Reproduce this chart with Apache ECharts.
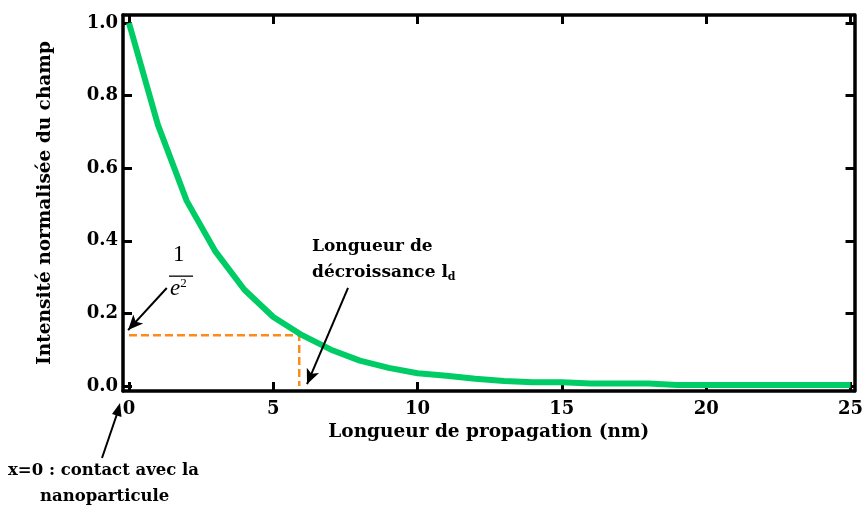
<!DOCTYPE html>
<html>
<head>
<meta charset="utf-8">
<script src="https://cdn.jsdelivr.net/npm/echarts@6/dist/echarts.min.js"></script>
<style>
  html, body { margin: 0; padding: 0; background: #fff; }
  #chart { width: 866px; height: 509px; }
</style>
</head>
<body>
<div id="chart"></div>
<script>
// tick labels
const xTicks = [0, 5, 10, 15, 20, 25];
const yTicks = [0, 0.2, 0.4, 0.6, 0.8, 1.0];

// green curve
const distance = [0, 1, 2, 3, 4, 5, 6, 7, 8, 9, 10, 11, 12, 13, 14, 15, 16, 17, 18, 19, 20, 21, 22, 23, 24, 25];
const intensity = [1.0, 0.72, 0.51, 0.37, 0.265, 0.19, 0.14, 0.10, 0.07, 0.05, 0.035, 0.028, 0.02, 0.014, 0.01, 0.01,
    0.007, 0.007, 0.007, 0.003, 0.003, 0.003, 0.003, 0.003, 0.003, 0.003];

// 1/e^2 level and decay length
const decayLevel = 0.14;
const decayLength = 5.9;

const font = "DejaVu Serif";
const black = "#000";

const chartDom = document.getElementById("chart");
const myChart = echarts.init(chartDom, null, { renderer: "canvas" });

const arrow = (from, to) => [
    { coord: from, symbol: "none" },
    { coord: to, symbol: "arrow", symbolSize: [10, 15] }
];

const boldText = (size) => ({ fontFamily: font, fontWeight: "bold", fontSize: size, color: black });

const option = {
    animation: false,
    grid: { left: 123, right: 8, top: 15, bottom: 118 },
    xAxis: [
        {
            type: "value",
            min: -0.207,
            max: 25.14,
            name: "Longueur de propagation (nm)",
            nameLocation: "middle",
            nameGap: 30,
            nameTextStyle: boldText(18.5),
            axisLine: { show: true, onZero: false, lineStyle: { color: black, width: 3.5 } },
            axisTick: { show: true, inside: true, length: 9, customValues: xTicks, lineStyle: { color: black, width: 3 } },
            axisLabel: Object.assign({ customValues: xTicks, margin: 9 }, boldText(18)),
            splitLine: { show: false }
        },
        {
            type: "value",
            position: "top",
            min: -0.207,
            max: 25.14,
            axisLine: { show: true, onZero: false, lineStyle: { color: black, width: 3.5 } },
            axisTick: { show: true, inside: true, length: 9, customValues: xTicks, lineStyle: { color: black, width: 3 } },
            axisLabel: { show: false },
            splitLine: { show: false }
        }
    ],
    yAxis: [
        {
            type: "value",
            min: -0.0138,
            max: 1.022,
            name: "Intensité normalisée du champ",
            nameLocation: "middle",
            nameGap: 68,
            nameTextStyle: boldText(18.5),
            axisLine: { show: true, onZero: false, lineStyle: { color: black, width: 3.5 } },
            axisTick: { show: true, inside: true, length: 9, customValues: yTicks, lineStyle: { color: black, width: 3 } },
            axisLabel: Object.assign({ customValues: yTicks, margin: 5, formatter: v => v.toFixed(1) }, boldText(18)),
            splitLine: { show: false }
        },
        {
            type: "value",
            position: "right",
            min: -0.0138,
            max: 1.022,
            axisLine: { show: true, onZero: false, lineStyle: { color: black, width: 3.5 } },
            axisTick: { show: true, inside: true, length: 9, customValues: yTicks, lineStyle: { color: black, width: 3 } },
            axisLabel: { show: false },
            splitLine: { show: false }
        }
    ],
    series: [
        {
            name: "intensite",
            type: "line",
            data: distance.map((d, i) => [d, intensity[i]]),
            showSymbol: false,
            smooth: false,
            lineStyle: { color: "#00cc66", width: 6 },
            z: 3
        },
        {
            name: "decroissance",
            type: "line",
            data: [[0, decayLevel], [decayLength, decayLevel], [decayLength, 0]],
            showSymbol: false,
            clip: false,
            lineStyle: { color: "#ff8a1c", width: 2.5, type: [8, 4] },
            z: 2,
            markLine: {
                silent: true,
                label: { show: false },
                lineStyle: { color: black, width: 2, type: "solid" },
                data: [
                    arrow([1.31, 0.27], [-0.03, 0.154]),
                    arrow([7.59, 0.27], [6.17, 0.005])
                ]
            }
        }
    ],
    graphic: [
        {
            type: "text", left: 173, top: 243,
            style: { text: "1", fontFamily: "Liberation Serif", fontSize: 23, fill: black }
        },
        {
            type: "rect", shape: { x: 169, y: 275.5, width: 24, height: 1.3 },
            style: { fill: black }
        },
        {
            type: "text", left: 170, top: 277,
            style: {
                text: "{e|e}{s|2}", fill: black,
                rich: {
                    e: { fontFamily: "Liberation Serif", fontStyle: "italic", fontSize: 23, verticalAlign: "bottom" },
                    s: { fontFamily: "Liberation Serif", fontSize: 13, verticalAlign: "top", padding: [0, 0, 10, 0] }
                }
            }
        },
        {
            type: "text", left: 312, top: 234,
            style: {
                text: "Longueur de\n{t|décroissance l}{d|d}", fill: black,
                fontFamily: font, fontWeight: "bold", fontSize: 17, lineHeight: 26,
                rich: {
                    t: { fontFamily: font, fontWeight: "bold", fontSize: 17 },
                    d: { fontFamily: font, fontWeight: "bold", fontSize: 11, padding: [9, 0, 0, 0] }
                }
            }
        },
        // arrow to x=0, below the axis
        {
            type: "line", shape: { x1: 102, y1: 458, x2: 117, y2: 414 },
            style: { stroke: black, lineWidth: 2 }
        },
        {
            type: "polygon", shape: { points: [[120, 403], [121.5, 417], [112, 414]] },
            style: { fill: black }
        },
        {
            type: "text", left: 8, top: 462,
            style: {
                text: "x=0 : contact avec la", fill: black,
                fontFamily: font, fontWeight: "bold", fontSize: 16.5
            }
        },
        {
            type: "text", left: 40, top: 488,
            style: {
                text: "nanoparticule", fill: black,
                fontFamily: font, fontWeight: "bold", fontSize: 16.5
            }
        }
    ]
};

option && myChart.setOption(option);
</script>
</body>
</html>
